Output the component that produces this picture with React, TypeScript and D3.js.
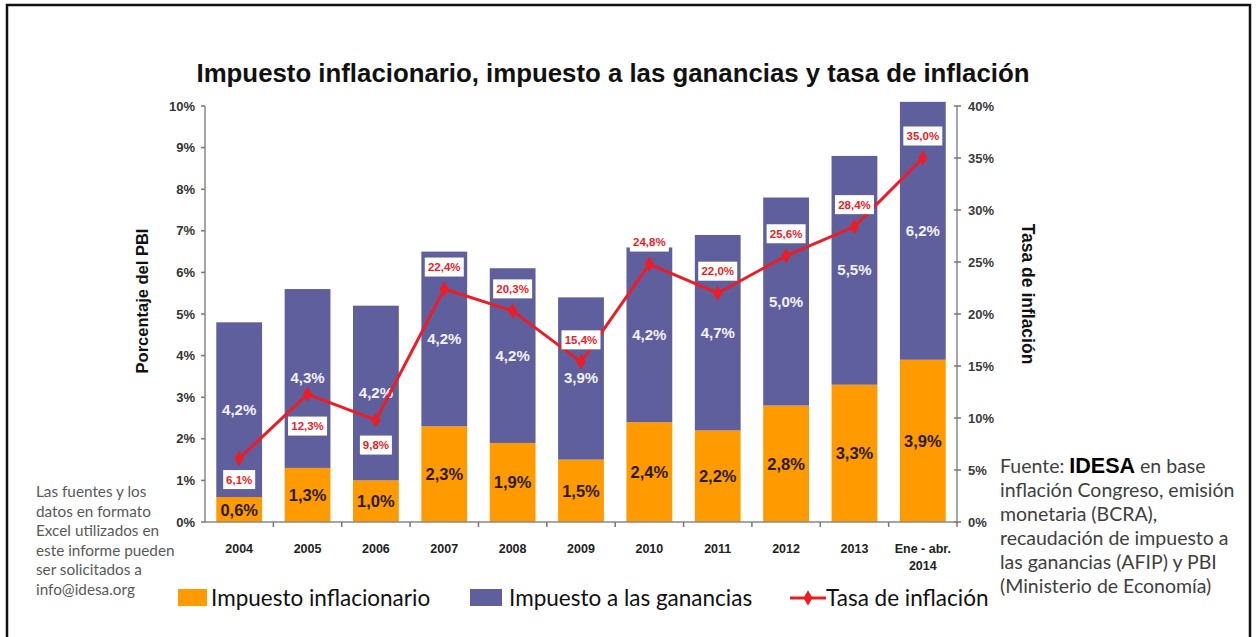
import React from "react";
import * as d3 from "d3";

const categories = ["2004", "2005", "2006", "2007", "2008", "2009", "2010", "2011", "2012", "2013", "Ene - abr.|2014"];
const impuestoInflacionario = [0.6, 1.3, 1.0, 2.3, 1.9, 1.5, 2.4, 2.2, 2.8, 3.3, 3.9];
const impuestoGanancias = [4.2, 4.3, 4.2, 4.2, 4.2, 3.9, 4.2, 4.7, 5.0, 5.5, 6.2];
const tasaInflacion = [6.1, 12.3, 9.8, 22.4, 20.3, 15.4, 24.8, 22.0, 25.6, 28.4, 35.0];
const inflacionLabelBelow = [true, true, true, false, false, false, false, false, false, false, false];
const leftTicks = [0, 1, 2, 3, 4, 5, 6, 7, 8, 9, 10];
const rightTicks = [0, 5, 10, 15, 20, 25, 30, 35, 40];
const footLeft = ["Las fuentes y los", "datos en formato", "Excel utilizados en", "este informe pueden", "ser solicitados a", "info@idesa.org"];
const footRight = ["inflación Congreso, emisión", "monetaria (BCRA),", "recaudación de impuesto a", "las ganancias (AFIP) y PBI", "(Ministerio de Economía)"];

const ORANGE = "#FF9A00";
const PURPLE = "#5F5F9D";
const RED = "#EE1C24";
const fmt = (v: number) => v.toFixed(1).replace(".", ",") + "%";

export default function App() {
  const W = 1258, H = 637;
  const x0 = 205, x1 = 957, yTop = 106, yBot = 522;
  const x = d3.scaleBand<string>().domain(categories).range([x0, x1]).paddingInner(0.33).paddingOuter(0.165);
  const yL = d3.scaleLinear().domain([0, 10]).range([yBot, yTop]);
  const yR = d3.scaleLinear().domain([0, 40]).range([yBot, yTop]);
  const step = x.step();
  const cx = (c: string) => (x(c) as number) + x.bandwidth() / 2;
  const line = d3.line<number>().x((_, i) => cx(categories[i])).y((d) => yR(d));
  const diamond = d3.symbol().type(d3.symbolDiamond).size(70)();
  const arial = "'Liberation Sans', Arial, sans-serif";
  const calibri = "Lato, 'Open Sans', sans-serif";

  return (
    <svg width={W} height={H} style={{ position: "absolute", left: 0, top: 0, background: "#fff" }}>
      <rect x={7} y={5} width={1243} height={H + 20} fill="none" stroke="#111" strokeWidth={2.5} />
      <text x={613} y={82} textAnchor="middle" fontFamily={arial} fontSize={25} fontWeight="bold" fill="#111"
        textLength={833} lengthAdjust="spacingAndGlyphs">
        Impuesto inflacionario, impuesto a las ganancias y tasa de inflación
      </text>

      {/* bars */}
      {categories.map((c, i) => {
        const a = impuestoInflacionario[i];
        const b = impuestoGanancias[i];
        return (
          <g key={c}>
            <rect x={x(c)} width={x.bandwidth()} y={yL(a)} height={yL(0) - yL(a)} fill={ORANGE} />
            <rect x={x(c)} width={x.bandwidth()} y={yL(a + b)} height={yL(a) - yL(a + b)} fill={PURPLE} />
            <text x={cx(c)} y={yL(a / 2) + 6} textAnchor="middle" fontFamily={arial} fontWeight="bold" fontSize={16.5} fill="#2a1a00">
              {fmt(a)}
            </text>
            <text x={cx(c)} y={yL(a + b / 2) + 5} textAnchor="middle" fontFamily={arial} fontWeight="bold" fontSize={15} fill="#f2f2f8">
              {fmt(b)}
            </text>
          </g>
        );
      })}

      {/* left axis */}
      <line x1={x0} x2={x0} y1={yTop} y2={yBot} stroke="#888" strokeWidth={1.5} />
      {leftTicks.map((t) => (
        <g key={t}>
          <line x1={x0 - 4} x2={x0} y1={yL(t)} y2={yL(t)} stroke="#777" strokeWidth={1.5} />
          <text x={x0 - 10} y={yL(t) + 4.5} textAnchor="end" fontFamily={arial} fontWeight="bold" fontSize={13} fill="#333">
            {t}%
          </text>
        </g>
      ))}
      {/* right axis */}
      <line x1={x1} x2={x1} y1={yTop} y2={yBot} stroke="#888" strokeWidth={1.5} />
      {rightTicks.map((t) => (
        <g key={t}>
          <line x1={x1 - 3} x2={x1 + 4} y1={yR(t)} y2={yR(t)} stroke="#777" strokeWidth={1.5} />
          <text x={x1 + 11} y={yR(t) + 4.5} textAnchor="start" fontFamily={arial} fontWeight="bold" fontSize={13} fill="#3a3a3a">
            {t}%
          </text>
        </g>
      ))}
      {/* x axis */}
      <line x1={x0} x2={x1} y1={yBot} y2={yBot} stroke="#888" strokeWidth={1.5} />
      {categories.map((c, i) => (
        <line key={"t" + c} x1={x0 + step * (i + 1)} x2={x0 + step * (i + 1)} y1={yBot} y2={yBot + 5} stroke="#777" strokeWidth={1.5} />
      ))}
      {categories.map((c) => {
        const parts = c.split("|");
        return (
          <text key={"l" + c} x={cx(c)} y={yBot + 31} textAnchor="middle" fontFamily={arial} fontWeight="bold" fontSize={12.5} fill="#222">
            {parts.map((p, j) => (
              <tspan key={j} x={cx(c)} dy={j === 0 ? 0 : 17}>{p}</tspan>
            ))}
          </text>
        );
      })}

      {/* inflation line */}
      <path d={line(tasaInflacion) || ""} fill="none" stroke={RED} strokeWidth={3} strokeLinejoin="round" />
      {tasaInflacion.map((v, i) => (
        <path key={"m" + i} d={diamond || ""} transform={`translate(${cx(categories[i])},${yR(v)})`} fill={RED} />
      ))}
      {tasaInflacion.map((v, i) => {
        const px = cx(categories[i]);
        const ly = yR(v) + (inflacionLabelBelow[i] ? (i === 1 ? 32 : i === 2 ? 25 : 21) : -22);
        const label = fmt(v);
        const bw = label.length * 7 + 4;
        return (
          <g key={"lb" + i}>
            <rect x={px - bw / 2} y={ly - 9.5} width={bw} height={19} fill="#fff" />
            <text x={px} y={ly + 4} textAnchor="middle" fontFamily={arial} fontWeight="bold" fontSize={11.5} fill={RED}>
              {label}
            </text>
          </g>
        );
      })}

      {/* axis titles */}
      <text transform={`translate(148,${301}) rotate(-90)`} textAnchor="middle" fontFamily={arial} fontWeight="bold" fontSize={16.5} fill="#111">
        Porcentaje del PBI
      </text>
      <text transform={`translate(1022,${294}) rotate(90)`} textAnchor="middle" fontFamily={arial} fontWeight="bold" fontSize={17.5} fill="#111">
        Tasa de inflación
      </text>

      {/* legend */}
      <rect x={178} y={589} width={29} height={17} fill={ORANGE} />
      <text x={211} y={606} fontFamily={calibri} fontSize={22.5} fill="#111">Impuesto inflacionario</text>
      <rect x={470} y={589} width={32} height={17} fill={PURPLE} />
      <text x={509} y={606} fontFamily={calibri} fontSize={22.5} fill="#111">Impuesto a las ganancias</text>
      <line x1={790} x2={826} y1={598} y2={598} stroke={RED} strokeWidth={3} />
      <path d={diamond || ""} transform="translate(808,598)" fill={RED} />
      <text x={826} y={606} fontFamily={calibri} fontSize={22.5} fill="#111">Tasa de inflación</text>

      {/* left footnote */}
      {footLeft.map((t, i) => (
        <text key={"fl" + i} x={36} y={497 + i * 19.6} fontFamily={calibri} fontSize={15.3} fill="#595959">{t}</text>
      ))}
      {/* right footnote */}
      <text x={1000} y={473} fontFamily={calibri} fontSize={19.5} fill="#404040">
        Fuente:{" "}
        <tspan fontFamily={arial} fontWeight="bold" fontSize={21.5} fill="#000">IDESA</tspan>
        <tspan> en base</tspan>
      </text>
      {footRight.map((t, i) => (
        <text key={"fr" + i} x={1000} y={497 + i * 24} fontFamily={calibri} fontSize={19.5} fill="#404040">{t}</text>
      ))}
    </svg>
  );
}
